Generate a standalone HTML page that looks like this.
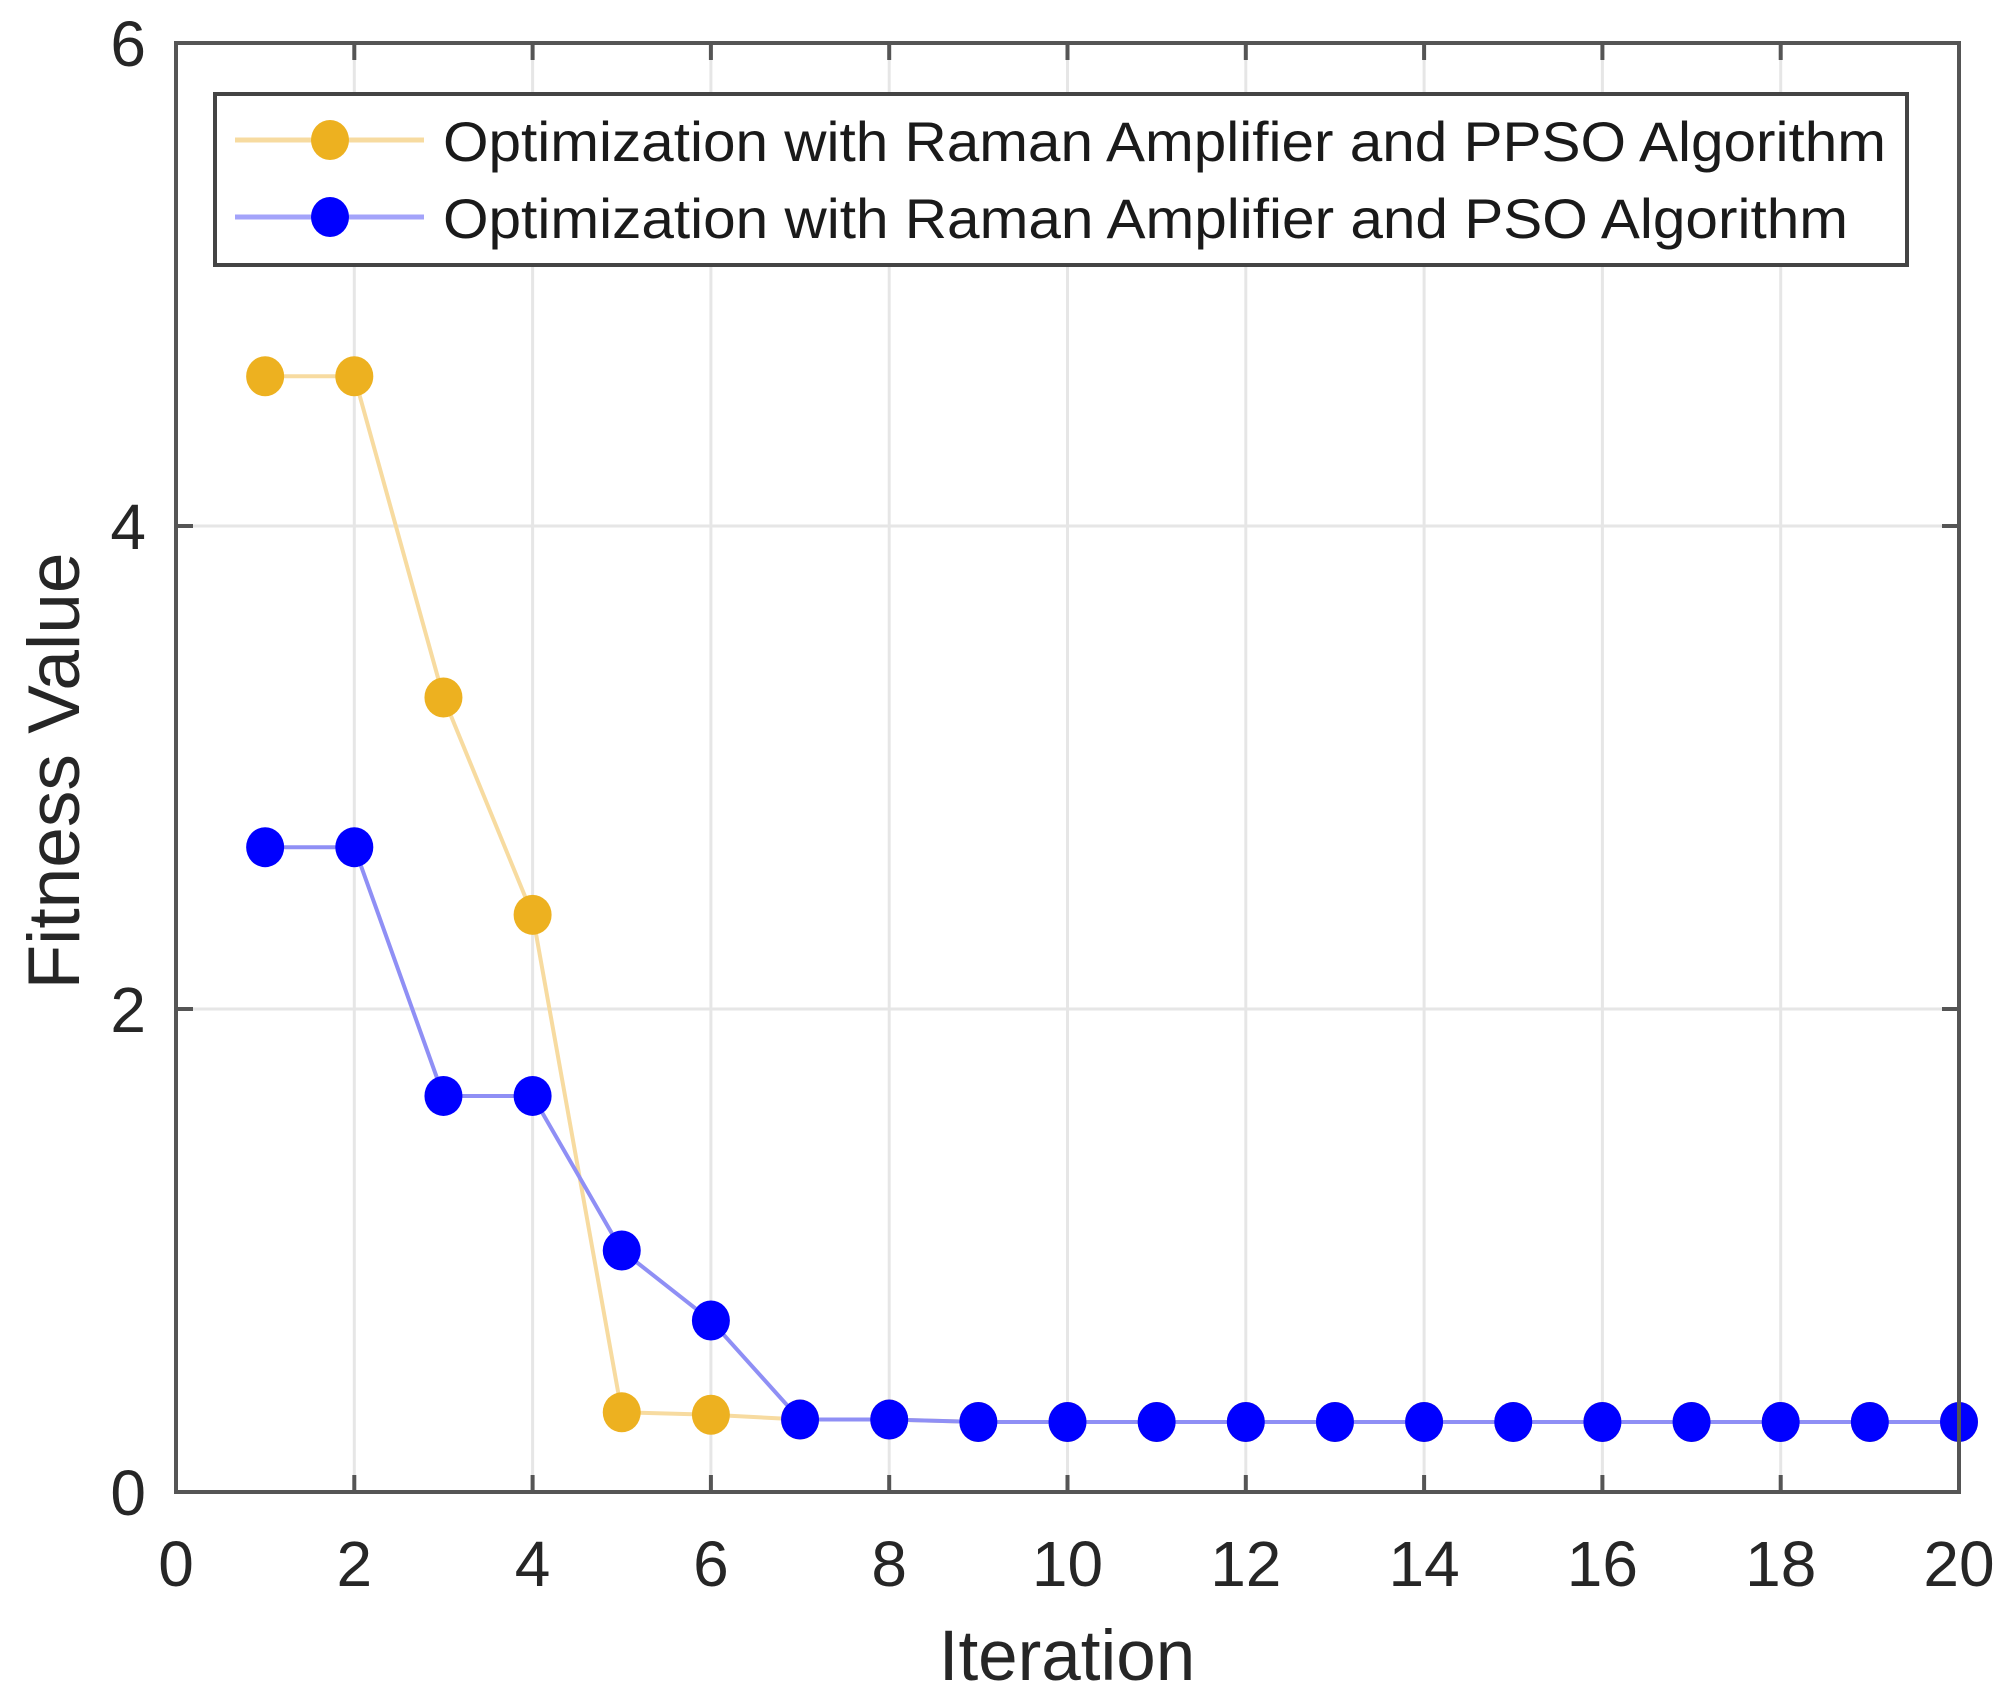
<!DOCTYPE html>
<html><head><meta charset="utf-8"><style>
html,body{margin:0;padding:0;background:#fff;}
svg{display:block;font-family:"Liberation Sans",sans-serif;}
</style></head><body>
<svg id="chart" width="2015" height="1699" viewBox="0 0 2015 1699" xmlns="http://www.w3.org/2000/svg"></svg>
<script>
const iterations = [1,2,3,4,5,6,7,8,9,10,11,12,13,14,15,16,17,18,19,20];
const ppsoValues = [4.62,4.62,3.29,2.39,0.33,0.32,0.30,0.30,0.29,0.29,0.29,0.29,0.29,0.29,0.29,0.29,0.29,0.29,0.29,0.29];
const psoValues = [2.67,2.67,1.64,1.64,1.00,0.71,0.30,0.30,0.29,0.29,0.29,0.29,0.29,0.29,0.29,0.29,0.29,0.29,0.29,0.29];
const xTicks = [0,2,4,6,8,10,12,14,16,18,20];
const yTicks = [0,2,4,6];
const seriesNames = ["Optimization with Raman Amplifier and PPSO Algorithm","Optimization with Raman Amplifier and PSO Algorithm"];

const NS="http://www.w3.org/2000/svg";
const svg=document.getElementById('chart');
const L=176,R=1959,T=43,B=1492;
const xs=v=>L+(v-0)/(20-0)*(R-L);
const ys=v=>B-(v-0)/(6-0)*(B-T);
function mk(tag,attrs,parent){const e=document.createElementNS(NS,tag);for(const k in attrs)e.setAttribute(k,attrs[k]);(parent||svg).appendChild(e);return e;}

const grid=mk('g',{});


xTicks.forEach(t=>{const l=mk('line',{x1:xs(t),x2:xs(t),y1:T,y2:B,stroke:'#e6e6e6','stroke-width':3},grid);

});
yTicks.forEach(t=>{const l=mk('line',{x1:L,x2:R,y1:ys(t),y2:ys(t),stroke:'#e6e6e6','stroke-width':3},grid);

});

function series(vals,lineColor,markColor,name){
  const g=mk('g',{});
  
  
  const pts=iterations.map((x,i)=>xs(x)+','+ys(vals[i])).join(' ');
  const pl=mk('polyline',{points:pts,fill:'none',stroke:lineColor,'stroke-width':4},g);
  
  
  iterations.forEach((x,i)=>{const c=mk('ellipse',{cx:xs(x),cy:ys(vals[i]),rx:19,ry:20,fill:markColor},g);
  
  });
}
series(ppsoValues,'#f7dba0','#edb120','ppso-series');
series(psoValues,'#8f8ff5','#0000ff','pso-series');

const ax=mk('g',{});


mk('rect',{x:L,y:T,width:R-L,height:B-T,fill:'none',stroke:'#555','stroke-width':4},ax);
xTicks.forEach(t=>{
  mk('line',{x1:xs(t),x2:xs(t),y1:B,y2:B-17,stroke:'#555','stroke-width':4},ax);
  mk('line',{x1:xs(t),x2:xs(t),y1:T,y2:T+17,stroke:'#555','stroke-width':4},ax);
  const tx=mk('text',{x:xs(t),y:1586,'text-anchor':'middle','font-size':64,fill:'#262626'},ax);
  tx.textContent=t;
  
  
});
yTicks.forEach(t=>{
  mk('line',{x1:L,x2:L+17,y1:ys(t),y2:ys(t),stroke:'#555','stroke-width':4},ax);
  mk('line',{x1:R,x2:R-17,y1:ys(t),y2:ys(t),stroke:'#555','stroke-width':4},ax);
  const tx=mk('text',{x:146,y:ys(t)+23,'text-anchor':'end','font-size':64,fill:'#262626'},ax);
  tx.textContent=t;
  
  
});
const xt=mk('text',{x:1067,y:1680,'text-anchor':'middle','font-size':71,fill:'#262626'});
xt.textContent='Iteration';


const yt=mk('text',{x:0,y:0,'text-anchor':'middle','font-size':73,fill:'#262626',transform:'translate(79,771) rotate(-90)'});
yt.textContent='Fitness Value';



const lg=mk('g',{});


mk('rect',{x:215,y:94,width:1692,height:171,fill:'#fff',stroke:'#444','stroke-width':4},lg);
const rows=[{y:140,lc:'#f7dba0',mc:'#edb120'},{y:217,lc:'#a3a3fa',mc:'#0000ff'}];
rows.forEach((r,i)=>{
  const e=mk('g',{},lg);
  
  
  mk('line',{x1:235,x2:424,y1:r.y,y2:r.y,stroke:r.lc,'stroke-width':5},e);
  mk('ellipse',{cx:330,cy:r.y,rx:19,ry:20,fill:r.mc},e);
  const t=mk('text',{x:443,y:r.y+21,'font-size':56,fill:'#1a1a1a'},e);
  t.textContent=seriesNames[i];
  t.setAttribute('textLength', i===0?1443:1405);
  t.setAttribute('lengthAdjust','spacingAndGlyphs');
});
</script>
</body></html>
